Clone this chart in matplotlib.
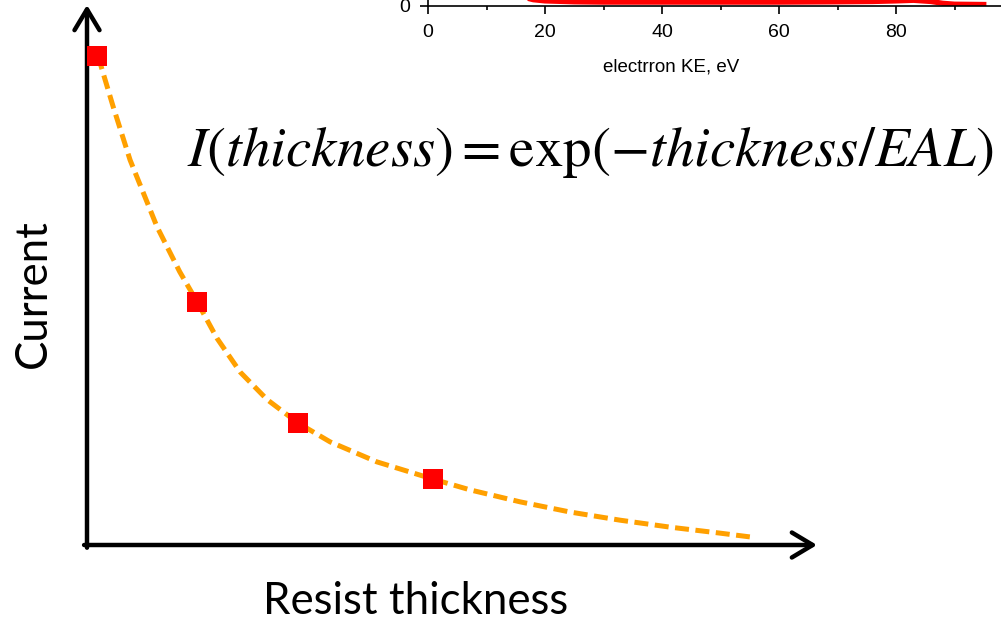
import matplotlib
matplotlib.use('Agg')
from matplotlib import pyplot as plt

# main sketch: resist thickness vs current (arbitrary units)
thickness_pts = [0.14, 1.51, 2.89, 4.74]
current_pts = [9.06, 4.50, 2.26, 1.22]

# dashed fitted curve
fit_thickness = [0.15, 0.36, 0.59, 0.96, 1.27, 1.51, 1.78, 2.10, 2.47, 2.89, 3.33,
                 3.97, 4.38, 4.74, 5.25, 5.93, 6.62, 7.30, 7.99, 8.67, 9.08]
fit_current = [9.06, 8.11, 7.13, 5.89, 5.06, 4.50, 3.83, 3.20, 2.69, 2.26, 1.91,
               1.54, 1.37, 1.22, 1.02, 0.80, 0.61, 0.46, 0.33, 0.22, 0.15]

# cropped inset spectrum (only the bottom is visible)
ke = [10, 13, 15, 17, 18, 20, 25, 30, 40, 50, 60, 70, 76, 80, 83, 86, 88, 90, 95]
counts = [40, 15, 6, 2.6, 2.1, 1.7, 1.4, 1.3, 1.3, 1.3, 1.3, 1.4, 1.5, 1.7, 1.9, 1.5, 0.9, 0.6, 0.5]
ke_ticks = [0, 20, 40, 60, 80]

fig = plt.figure(figsize=(10.01, 6.22), dpi=100)

ax = fig.add_axes([87 / 1001, 77 / 622, 730 / 1001, 540 / 622])
ax.set_xlim(0, 10)
ax.set_ylim(0, 10)
ax.axis('off')

arrow = dict(arrowstyle='->,head_length=0.75,head_width=0.45', lw=3.2, color='black',
             shrinkA=0, shrinkB=0, mutation_scale=20)
ax.annotate('', xy=(10, 0), xytext=(-0.04, 0), arrowprops=arrow, annotation_clip=False)
ax.annotate('', xy=(0, 10), xytext=(0, -0.05), arrowprops=arrow, annotation_clip=False)

ax.plot(fit_thickness, fit_current, color='#FFA000', lw=3.6, dashes=(2.8, 1.3), zorder=2)
ax.plot(thickness_pts, current_pts, 's', color='#FF0000', markersize=14.5,
        markeredgewidth=0, zorder=3)

fig.text(33 / 1001, 1 - 294 / 622, 'Current', rotation=90, ha='center', va='center',
         fontsize=31.5, family='Lato')
fig.text(416 / 1001, 1 - 601 / 622, 'Resist thickness', ha='center', va='center',
         fontsize=31.5, family='Lato')

plt.rcParams['mathtext.fontset'] = 'stix'
fig.text(590 / 1001, 1 - 152 / 622, r'$I(thickness) = \exp(-thickness/EAL)$',
         ha='center', va='center', fontsize=41)

# inset, runs off the top and right of the figure
ins = fig.add_axes([428 / 1001, 616 / 622, 585 / 1001, 300 / 622])
ins.plot(ke, counts, color='#FF0000', lw=3.8)
ins.set_xlim(0, 100)
ins.set_ylim(0, 100)
ins.spines['top'].set_visible(False)
ins.spines['right'].set_visible(False)
for s in ('left', 'bottom'):
    ins.spines[s].set_linewidth(1.2)
ins.set_xticks(ke_ticks)
ins.set_xticks([10, 30, 50, 70, 90], minor=True)
ins.set_yticks([0])
ins.tick_params(axis='both', which='major', direction='out', length=6, width=1.2,
                labelsize=14, pad=7)
ins.tick_params(axis='x', which='minor', direction='out', length=3, width=1.2)
for lab in ins.get_xticklabels() + ins.get_yticklabels():
    lab.set_family('Liberation Sans')
ins.set_xlabel('electrron KE, eV', fontsize=13.5, family='Liberation Sans')
ins.xaxis.label.set_va('center')
ins.xaxis.set_label_coords((671 - 428) / 585, -61 / 300)

fig.savefig('out.png', dpi=100)
